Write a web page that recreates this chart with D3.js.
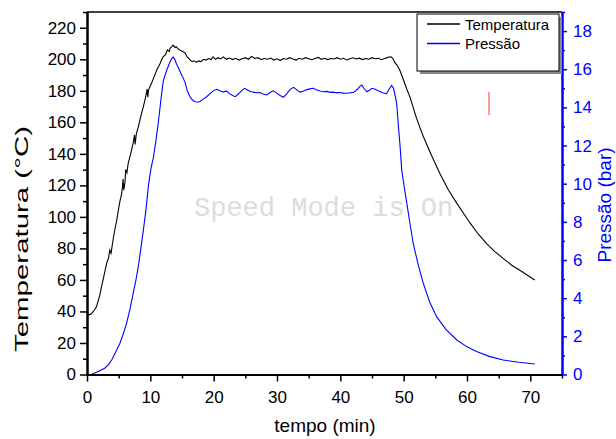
<!DOCTYPE html>
<html>
<head>
<meta charset="utf-8">
<script src="https://cdn.jsdelivr.net/npm/d3@7"></script>
<style>
  body { margin: 0; background: #fff; }
  svg { display: block; }
</style>
</head>
<body>
<svg id="chart" width="616" height="439"></svg>
<script>
// tempo (min) / temperatura (°C)
const tempoT = [0, 0.4, 0.7, 1.0, 1.5, 2.0, 2.3, 2.7, 3.1, 3.4, 3.6, 3.8, 4.1, 4.4, 4.7, 4.9, 5.2, 5.5, 5.7, 5.8,
  6.0, 6.1, 6.3, 6.5, 6.9, 7.3, 7.5, 7.6, 7.8, 8.1, 8.5, 8.9, 9.2, 9.5, 9.6, 9.7, 10.2, 10.6, 11.0, 11.5,
  12.0, 12.4, 12.7, 13.0, 13.1, 13.4, 13.6, 13.9, 14.1, 14.4, 14.8, 15.1, 15.5, 15.8, 16.1, 16.3, 16.6, 16.9, 17.3, 17.6,
  18.0, 18.4, 18.8, 19.2, 19.6, 19.9, 20.3, 20.7, 21.1, 21.5, 22, 22.5, 23, 23.5, 24, 24.5, 25, 25.5, 26, 26.5,
  27, 27.5, 28, 28.5, 29, 29.5, 30, 30.5, 31, 31.5, 32, 32.5, 33, 33.5, 34, 34.5, 35, 35.5, 36, 36.5,
  37, 37.5, 38, 38.5, 39, 39.5, 40, 40.5, 41, 41.5, 42, 42.5, 43, 43.5, 44, 44.5, 45, 45.5, 46, 46.5,
  47, 47.5, 48, 48.3, 48.6, 49.0, 49.4, 50.0, 50.5, 51, 52, 53.1, 54.4, 55.7, 57, 58.4, 59.5, 60.5, 61.8, 63.1,
  64.4, 65.7, 67, 68.4, 69.6, 70.7];
const temperatura = [38, 38, 38.5, 40, 43, 50, 55.7, 63, 70.5, 74, 79, 77, 85, 92, 98, 103, 110, 115, 124, 117,
  122, 130, 128, 134, 140, 147, 152, 146, 153, 157, 164, 170, 175, 181, 176, 180.5, 185, 189, 193, 197,
  201.6, 203, 206, 205, 207, 208, 209, 207.5, 208, 206.5, 205.5, 205, 204, 201.5, 200.5, 199.5, 198.5, 199, 198, 199,
  198.5, 200, 199.5, 200.5, 199.8, 201.6, 200, 201, 200.2, 201.5, 200, 200.8, 199.8, 200.6, 199.5, 200.3, 201, 200, 201.8, 200.5,
  201, 199.8, 200.5, 200, 200.8, 199.5, 200.3, 199.2, 200.5, 200, 201, 200.2, 199.5, 200.6, 200, 201, 200.4, 199.7, 200.5, 201.2,
  200, 200.6, 199.8, 200.5, 200.2, 201, 200, 200.6, 199.6, 200.4, 201, 200.2, 200.7, 199.8, 200.5, 200, 201, 200.3, 200.6, 199.7,
  200.5, 201.2, 201.6, 200.5, 198, 196, 193, 186.5, 181, 176, 163, 151, 139, 127.7, 117.5, 108.6, 102, 96, 89, 83,
  78, 73.7, 69.5, 66, 62.8, 60];

// tempo (min) / pressão (bar)
const tempoP = [0.7, 1.0, 1.5, 2.0, 2.8, 3.4, 3.9, 4.5, 5.2, 5.7, 6.25, 6.8, 7.3, 7.7, 8.1, 8.5, 8.9, 9.3, 9.7, 10.1,
  10.5, 10.9, 11.3, 11.7, 12.05, 12.6, 13.0, 13.4, 13.6, 13.9, 14.1, 14.4, 14.8, 15.1, 15.5, 15.8, 16.2, 16.6, 17.05, 17.5,
  17.8, 18.3, 18.9, 19.5, 20.0, 20.5, 21.0, 21.5, 22.0, 22.5, 23.0, 23.4, 23.9, 24.4, 24.9, 25.4, 25.9, 26.3, 26.8, 27.3,
  27.8, 28.4, 28.9, 29.4, 29.9, 30.5, 31.0, 31.5, 32.0, 32.6, 33.1, 33.6, 34.1, 34.6, 35.2, 35.7, 36.2, 36.8, 37.3, 37.9,
  38.4, 38.9, 39.4, 39.9, 40.5, 41, 41.6, 42.1, 42.7, 43.1, 43.4, 43.8, 44.2, 44.6, 45.0, 45.5, 45.9, 46.3, 46.8, 47.3,
  47.7, 48.1, 48.4, 48.6, 48.9, 49.2, 49.4, 49.7, 50.1, 50.5, 51.0, 51.5, 52.3, 53.1, 54.1, 55.2, 56.7, 58.4, 60.0, 61.5,
  63.5, 65.7, 68.2, 70.7];
const pressao = [0, 0.05, 0.12, 0.2, 0.33, 0.52, 0.76, 1.15, 1.64, 2.1, 2.68, 3.45, 4.26, 4.9, 5.65, 6.6, 7.57, 8.6, 9.9, 10.8,
  11.4, 12.3, 13.3, 14.5, 15.4, 15.96, 16.3, 16.57, 16.65, 16.5, 16.3, 16.1, 15.8, 15.6, 15.3, 14.9, 14.6, 14.4, 14.3, 14.28,
  14.3, 14.42, 14.56, 14.75, 14.88, 14.95, 14.87, 14.8, 14.86, 14.72, 14.62, 14.56, 14.7, 14.88, 15.0, 14.9, 14.82, 14.8, 14.77, 14.78,
  14.7, 14.65, 14.78, 14.87, 14.76, 14.62, 14.53, 14.7, 14.92, 15.05, 14.93, 14.8, 14.85, 14.92, 14.97, 15.0, 14.93, 14.86, 14.82, 14.84,
  14.79, 14.8, 14.76, 14.78, 14.75, 14.74, 14.77, 14.79, 14.95, 15.1, 15.17, 14.95, 14.82, 14.9, 15.0, 14.95, 14.88, 14.82, 14.75, 14.72,
  14.95, 15.15, 15.0, 14.7, 14.2, 12.9, 12.1, 10.7, 9.8, 8.97, 7.9, 6.88, 5.75, 4.78, 3.8, 3.03, 2.35, 1.81, 1.45, 1.2,
  0.95, 0.76, 0.64, 0.55];

const xTicks = [0, 10, 20, 30, 40, 50, 60, 70];
const xMinor = [5, 15, 25, 35, 45, 55, 65, 75];
const tTicks = [0, 20, 40, 60, 80, 100, 120, 140, 160, 180, 200, 220];
const tMinor = [10, 30, 50, 70, 90, 110, 130, 150, 170, 190, 210, 230];
const pTicks = [0, 2, 4, 6, 8, 10, 12, 14, 16, 18];
const pMinor = [1, 3, 5, 7, 9, 11, 13, 15, 17, 19];
const seriesNames = ['Temperatura', 'Pressão'];
const seriesColors = ['#000000', '#0000ff'];

const sans = 'Arial, "Liberation Sans", sans-serif';
const svg = d3.select('#chart').attr('font-family', sans);
const plotLeft = 87, plotRight = 562, plotTop = 12, plotBottom = 374.5;

const x = d3.scaleLinear().domain([0, 75]).range([plotLeft, plotRight]);
const yT = d3.scaleLinear().domain([0, 230]).range([plotBottom, plotTop]);
const yP = d3.scaleLinear().domain([0, 19]).range([plotBottom, plotTop]);

// watermark
svg.append('text')
  .attr('x', 194).attr('y', 216)
  .attr('font-family', '"Liberation Mono", "Courier New", monospace')
  .attr('font-size', 27)
  .attr('fill', '#dcdcdc')
  .text('Speed Mode is On');

// series
const lineT = d3.line().x((d, i) => x(tempoT[i])).y(d => yT(d));
const lineP = d3.line().x((d, i) => x(tempoP[i])).y(d => yP(d));

svg.append('path').attr('d', lineT(temperatura))
  .attr('fill', 'none').attr('stroke', seriesColors[0]).attr('stroke-width', 1.1);
svg.append('path').attr('d', lineP(pressao))
  .attr('fill', 'none').attr('stroke', seriesColors[1]).attr('stroke-width', 1.1);

// red marker
svg.append('line')
  .attr('x1', 489).attr('x2', 489).attr('y1', 92).attr('y2', 115)
  .attr('stroke', '#e83a3a').attr('stroke-width', 1);

// top frame
svg.append('line')
  .attr('x1', plotLeft).attr('x2', plotRight).attr('y1', plotTop).attr('y2', plotTop)
  .attr('stroke', '#000').attr('stroke-width', 1.6);

function styleAxis(g, color, size) {
  g.attr('font-family', sans).attr('font-size', size);
  g.selectAll('.domain').attr('stroke', color).attr('stroke-width', 2);
  g.selectAll('.tick line').attr('stroke', color).attr('stroke-width', 1.5);
  g.selectAll('text').attr('fill', color);
}

// x axis
svg.append('g').attr('transform', `translate(0,${plotBottom})`)
  .call(d3.axisBottom(x).tickValues(xMinor).tickSize(4).tickFormat('').tickSizeOuter(0))
  .call(g => styleAxis(g, '#000', 17));
svg.append('g').attr('transform', `translate(0,${plotBottom})`)
  .call(d3.axisBottom(x).tickValues(xTicks).tickSize(7).tickPadding(9).tickSizeOuter(0))
  .call(g => styleAxis(g, '#000', 17));

// left axis
svg.append('g').attr('transform', `translate(${plotLeft},0)`)
  .call(d3.axisLeft(yT).tickValues(tMinor).tickSize(4).tickFormat('').tickSizeOuter(0))
  .call(g => styleAxis(g, '#000', 17));
svg.append('g').attr('transform', `translate(${plotLeft},0)`)
  .call(d3.axisLeft(yT).tickValues(tTicks).tickSize(7).tickPadding(4).tickSizeOuter(0))
  .call(g => styleAxis(g, '#000', 17));

// right axis
svg.append('g').attr('transform', `translate(${plotRight},0)`)
  .call(d3.axisRight(yP).tickValues(pMinor).tickSize(3).tickFormat('').tickSizeOuter(0))
  .call(g => styleAxis(g, '#0000ff', 17));
svg.append('g').attr('transform', `translate(${plotRight},0)`)
  .call(d3.axisRight(yP).tickValues(pTicks).tickSize(5).tickPadding(6).tickSizeOuter(0))
  .call(g => styleAxis(g, '#0000ff', 17));

// axis titles
svg.append('text')
  .attr('x', 325).attr('y', 432)
  .attr('text-anchor', 'middle').attr('font-size', 19)
  .text('tempo (min)');
svg.append('text')
  .attr('transform', 'translate(28,239) rotate(-90)')
  .attr('text-anchor', 'middle').attr('font-size', 18.5)
  .attr('textLength', 226).attr('lengthAdjust', 'spacingAndGlyphs')
  .text('Temperatura (°C)');
svg.append('text')
  .attr('transform', 'translate(611,205) rotate(-90)')
  .attr('text-anchor', 'middle').attr('font-size', 19)
  .attr('fill', '#0000ff')
  .text('Pressão (bar)');

// legend
const legend = svg.append('g');
legend.append('rect').attr('x', 420).attr('y', 17).attr('width', 142).attr('height', 57).attr('fill', '#8a8a8a');
legend.append('rect').attr('x', 417).attr('y', 14).attr('width', 142).attr('height', 57)
  .attr('fill', '#fff').attr('stroke', '#000').attr('stroke-width', 1);
legend.selectAll('path.swatch')
  .data(seriesNames)
  .join('path')
  .attr('class', 'swatch')
  .attr('d', (d, i) => `M427,${24 + i * 19.5}H460`)
  .attr('fill', 'none')
  .attr('stroke', (d, i) => seriesColors[i])
  .attr('stroke-width', 1.3);
legend.selectAll('text.label')
  .data(seriesNames)
  .join('text')
  .attr('class', 'label')
  .attr('x', 465).attr('y', (d, i) => 29.5 + i * 19.5)
  .attr('font-size', 15).attr('fill', '#000')
  .text(d => d);
</script>
</body>
</html>
